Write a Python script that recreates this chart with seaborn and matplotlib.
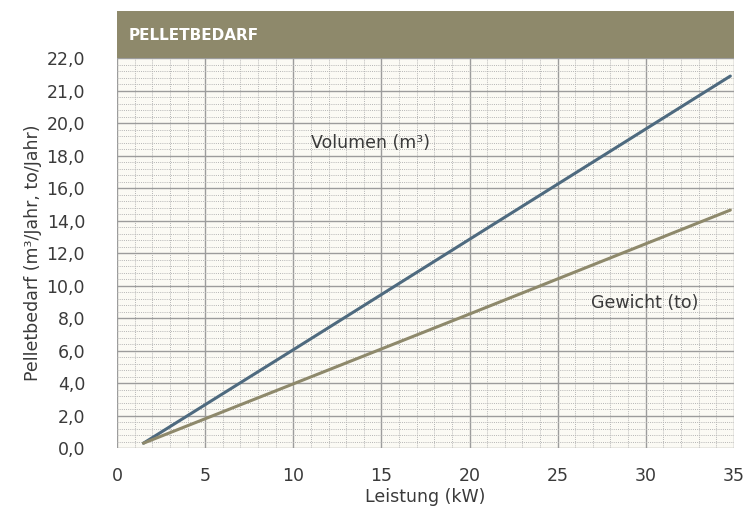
import pandas as pd
import matplotlib.pyplot as plt
import seaborn as sns
from matplotlib.ticker import MultipleLocator
from matplotlib.patches import Rectangle

# --- data ---
leistung = [1.5, 10, 20, 34.8]
volumen = [0.3, 6.05, 12.85, 22.9]
gewicht = [0.3, 3.95, 8.25, 14.65]
y_ticks = [0, 2, 4, 6, 8, 10, 12, 14, 16, 18, 20, 22, 24]
y_labels = ['0,0', '2,0', '4,0', '6,0', '8,0', '10,0', '12,0', '14,0',
            '16,0', '18,0', '20,0', '21,0', '22,0']
x_ticks = [0, 5, 10, 15, 20, 25, 30, 35]

df = pd.DataFrame({
    'Leistung': leistung * 2,
    'Wert': volumen + gewicht,
    'Serie': ['Volumen (m³)'] * len(leistung) + ['Gewicht (to)'] * len(leistung),
})

sns.set_style('white')
plt.rcParams['font.family'] = ['DejaVu Sans']

olive = '#8e896b'
blue = '#4e6a7f'
grey = '#9c9c9c'
text_col = '#3a3a3a'

fig = plt.figure(figsize=(7.55, 5.15), dpi=100)
ax = fig.add_axes([0.155, 0.130, 0.817, 0.757])
ax.set_facecolor('#fbfaf4')

sns.lineplot(data=df, x='Leistung', y='Wert', hue='Serie',
             palette={'Volumen (m³)': blue, 'Gewicht (to)': olive},
             linewidth=2.2, legend=False, ax=ax, zorder=5)

ax.set_xlim(0, 35)
ax.set_ylim(0, 24)
ax.set_xticks(x_ticks)
ax.set_yticks(y_ticks)
ax.set_yticklabels(y_labels)
ax.xaxis.set_minor_locator(MultipleLocator(1))
ax.yaxis.set_minor_locator(MultipleLocator(0.4))

ax.grid(which='major', color=grey, linewidth=1.0)
ax.grid(which='minor', color='#b5b5b5', linewidth=0.7, linestyle=(0, (1, 1.2)))
ax.set_axisbelow(True)
for s in ax.spines.values():
    s.set_visible(False)

ax.tick_params(axis='y', which='major', length=20, width=1, color=grey,
               labelsize=12.5, labelcolor=text_col, pad=3)
ax.tick_params(axis='x', which='major', length=10, width=1, color=grey,
               labelsize=12.5, labelcolor=text_col, pad=4)
ax.tick_params(which='minor', length=0)

ax.set_xlabel('Leistung (kW)', fontsize=12.5, color=text_col, labelpad=2)
ax.set_ylabel('Pelletbedarf (m³/Jahr, to/Jahr)', fontsize=12.5, color=text_col, labelpad=3)

ax.text(11.0, 18.8, 'Volumen (m³)', fontsize=12.5, color=text_col, va='center')
ax.text(26.9, 8.9, 'Gewicht (to)', fontsize=12.5, color=text_col, va='center')

# header band
fig.patches.append(Rectangle((0.155, 0.887), 0.817, 0.092, transform=fig.transFigure,
                             facecolor=olive, edgecolor='none'))
fig.text(0.170, 0.932, 'PELLETBEDARF', color='white', fontsize=11,
         fontweight='bold', va='center')

fig.savefig('out.png', dpi=100)
